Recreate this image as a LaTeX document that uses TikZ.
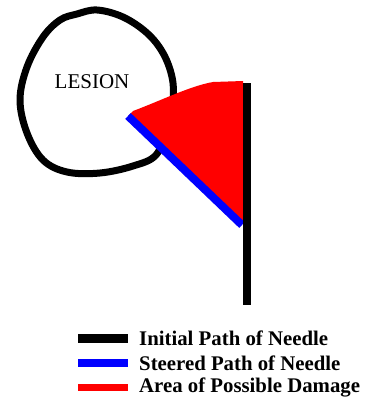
\documentclass[tikz,border=0pt]{standalone}
\usepackage{fontspec}
\setmainfont{Liberation Serif}
\usepackage{tikz}
\tikzset{
  lesionline/.style = {black,line width=7pt,line join=round},
  needleline/.style = {black,line width=8pt},
  steerline/.style  = {blue,line width=8pt},
  damagefill/.style = {fill=red,draw=none},
  legendtext/.style = {anchor=west,inner sep=0pt,font=\fontsize{20.8}{22}\selectfont\bfseries}
}
\newcommand{\legendrow}[5]{%
  \draw[line width=#5,#2] (78,#1) -- (128,#1);
  \node[legendtext] (#4) at (139,#1) {#3};
}

\begin{document}
\begin{tikzpicture}[x=1pt,y=-1pt]
  \useasboundingbox (0,0) rectangle (369,399);
  % lesion outline
  \draw[lesionline] plot[smooth cycle,tension=0.6] coordinates {
    (60,20) (77,14) (97,10) (123,17) (147,33) (163,53) (172,77) (173,100)
    (167,128) (156,155) (133,166) (100,173) (67,172) (43,160) (27,133)
    (20,100) (27,67) (43,37)};
  \node[font=\fontsize{21}{22}\selectfont] (lesion) at (92,82) {LESION};
  % damage area and steered path
  \coordinate (steerstart) at (128,116);
  \coordinate (steerend) at (242,225);
  \fill[damagefill] (steerstart) -- (133,111) .. controls (160,101) and (190,86) .. (213,82)
    -- (243,81) -- (243,222) -- cycle;
  \draw[steerline] (steerstart) -- (steerend);
  % initial path
  \draw[needleline] (247,83) -- (247,305);
  % legend
  \legendrow{338}{black}{Initial Path of Needle}{initial}{9pt}
  \legendrow{363}{blue}{Steered Path of Needle}{steered}{8pt}
  \legendrow{387}{red}{Area of Possible Damage}{damage}{7pt}
\end{tikzpicture}
\end{document}
